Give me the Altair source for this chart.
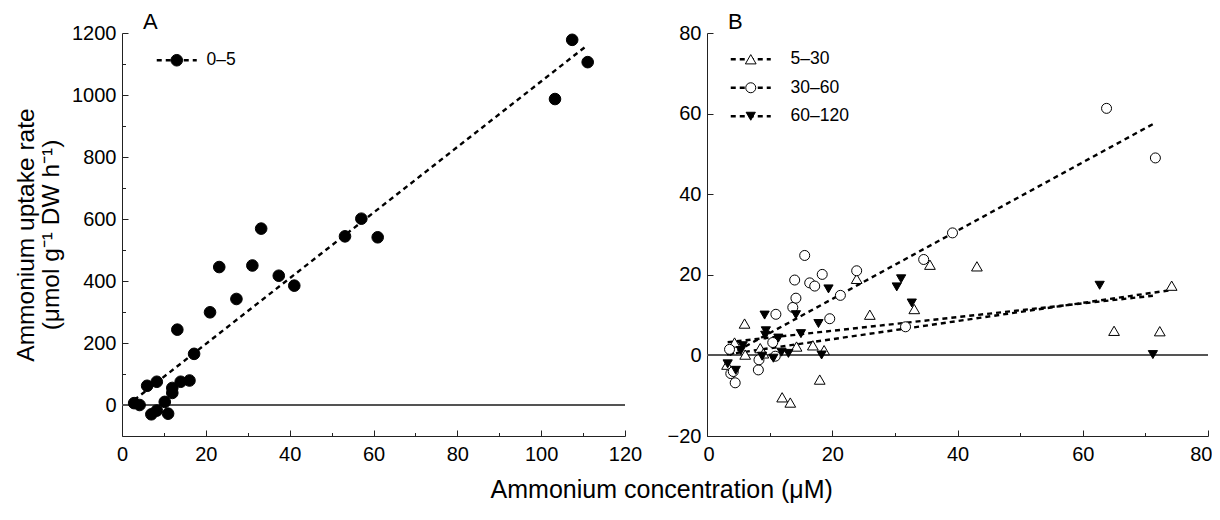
import altair as alt
import pandas as pd
import math

FONT = "Liberation Sans"

# ---------------- Panel A data (0–5) ----------------
a_group = "0–5"
a_x = [2.9, 4.2, 6.0, 7.0, 8.3, 8.3, 10.2, 11.0, 12.0, 12.0, 13.2, 14.0, 16.1, 17.2,
       21.0, 23.2, 27.3, 31.1, 33.2, 37.4, 41.1, 53.2, 57.1, 61.0, 103.3, 107.4, 111.1]
a_y = [6, 0, 62, -30, 75, -18, 10, -28, 55, 39, 243, 75, 79, 165,
       299, 445, 342, 450, 569, 417, 385, 544, 601, 541, 987, 1178, 1106]

# ---------------- Panel B data ----------------
b_groups = ["5–30", "30–60", "60–120"]

tri_x = [3.2, 4.4, 6.0, 6.1, 8.5, 9.0, 14.3, 16.9, 18.7, 18.0, 12.0, 13.3,
         23.9, 26.0, 33.1, 35.6, 43.1, 65.0, 72.3, 74.2]
tri_y = [-2.3, 3.2, 7.9, 0.2, 1.8, 0.5, 2.2, 2.5, 1.3, -6.0, -10.4, -11.7,
         19.0, 10.1, 11.5, 22.5, 22.1, 6.1, 6.0, 17.3]

circ_x = [3.6, 3.8, 4.2, 4.5, 8.2, 8.3, 10.5, 10.9, 11.0, 13.7, 14.2, 14.0, 15.6,
          16.4, 17.2, 18.4, 19.6, 21.3, 23.9, 31.7, 34.6, 39.2, 63.8, 71.6]
circ_y = [1.5, -4.5, -4.0, -6.8, -3.6, -1.1, 3.2, -0.2, 10.2, 11.9, 14.2, 18.7, 24.8,
          18.0, 17.2, 20.1, 9.1, 14.9, 21.0, 7.1, 23.8, 30.4, 61.3, 49.0]

inv_x = [3.3, 4.6, 5.4, 5.7, 8.8, 9.2, 9.4, 9.3, 10.6, 11.4, 11.9, 13.0, 14.2,
         15.0, 17.8, 18.3, 19.4, 30.3, 31.0, 32.7, 62.7, 71.2]
inv_y = [-2.1, -3.7, 1.2, 2.4, -0.2, 10.0, 6.1, 5.0, -0.7, 4.3, 0.8, 0.5, 10.1,
         5.4, 7.9, 0.1, 16.5, 17.0, 19.0, 13.0, 17.4, 0.2]

dfA = pd.DataFrame({"x": a_x, "y": a_y, "grp": a_group})
dfB = pd.concat([
    pd.DataFrame({"x": tri_x, "y": tri_y, "grp": b_groups[0]}),
    pd.DataFrame({"x": circ_x, "y": circ_y, "grp": b_groups[1]}),
    pd.DataFrame({"x": inv_x, "y": inv_y, "grp": b_groups[2]}),
], ignore_index=True)

AX = "#222222"
ZW = "\u200b"  # keeps the dashed-line legend separate from the marker legend


def major_axis(values, orient, title=None, padding=12, flush=False):
    kw = dict(
        values=values, orient=orient, grid=False, format="d",
        domainColor=AX, tickColor=AX, domainWidth=1, tickWidth=1,
        tickSize={"expr": "-6"},
        labelPadding=padding, labelFont=FONT, labelFontSize=20, labelColor="black",
        labelOverlap=False,
    )
    if flush:
        kw["labelFlush"] = True
        kw["labelFlushOffset"] = 4
    else:
        kw["labelFlush"] = False
    if title is None:
        kw["title"] = None
    else:
        kw.update(title=title, titleFont=FONT, titleFontSize=24.5, titleFontWeight="normal",
                  titleColor="black", titlePadding=8, titleLineHeight=25)
    return alt.Axis(**kw)


def minor_axis(values, orient):
    return alt.Axis(values=values, orient=orient, grid=False, domain=False, labels=False,
                    tickColor=AX, tickWidth=1, tickSize={"expr": "-3.5"}, title=None)


def panel(df, groups, shapes, fills, sizes, xdom, ydom, xmaj, ymaj, xmin, ymin, letter,
          lsize, leg_x, leg_y, label_off, row_pad, w, h):
    xs = alt.Scale(domain=xdom, nice=False, zero=False)
    ys = alt.Scale(domain=ydom, nice=False, zero=False)
    base = alt.Chart(df)

    zero = alt.Chart(df).mark_rule(color="#555555", strokeWidth=1).encode(
        y=alt.YDatum(0, scale=ys, axis=None)
    )

    half = 20.0 / (math.sqrt(lsize) / 2.0)
    line_path = f"M{-half:.3f},0L{half:.3f},0"

    leg_common = dict(
        orient="none", legendX=leg_x, legendY=leg_y, title=None,
        symbolSize=lsize, labelFont=FONT, labelFontSize=17.5, labelColor="black",
        rowPadding=row_pad, padding=0, labelOffset=label_off,
        symbolStrokeColor="black",
    )

    groups2 = [g + ZW for g in groups]
    lines = base.transform_regression(
        "x", "y", groupby=["grp"]
    ).transform_calculate(grp2=f"datum.grp + '{ZW}'").mark_line(
        color="black", strokeWidth=2.4
    ).encode(
        x=alt.X("x:Q", scale=xs, axis=xmin),
        y=alt.Y("y:Q", scale=ys, axis=ymin),
        detail="grp:N",
        strokeDash=alt.StrokeDash(
            "grp2:N",
            scale=alt.Scale(domain=groups2, range=[[5, 4]] * len(groups)),
            legend=alt.Legend(symbolType=line_path, symbolStrokeWidth=2.4,
                              labelOpacity=0, zindex=1, **leg_common),
        ),
    )

    mleg = alt.Legend(symbolStrokeWidth=1, zindex=2, **leg_common)
    enc = dict(
        x=alt.X("x:Q", scale=xs, axis=xmaj),
        y=alt.Y("y:Q", scale=ys, axis=ymaj),
        shape=alt.Shape("grp:N", scale=alt.Scale(domain=groups, range=shapes), legend=mleg),
        fill=alt.Fill("grp:N", scale=alt.Scale(domain=groups, range=fills), legend=mleg),
        stroke=alt.Stroke("grp:N", scale=alt.Scale(domain=groups, range=["black"] * len(groups)),
                          legend=mleg),
    )
    if len(groups) > 1:
        enc["size"] = alt.Size("grp:N", scale=alt.Scale(domain=groups, range=sizes), legend=mleg)
        pts = base.mark_point(filled=False, strokeWidth=1, opacity=1).encode(**enc)
    else:
        pts = base.mark_point(filled=False, strokeWidth=1, opacity=1, size=sizes[0]).encode(**enc)

    return alt.layer(zero, lines, pts).resolve_axis(x="independent", y="independent").properties(
        width=w, height=h,
        title=alt.TitleParams(letter, anchor="start", frame="group", dx=21, fontSize=22,
                              fontWeight="normal", font=FONT, color="black", offset=-10.5),
    )


axA_x = major_axis(list(range(0, 121, 20)), "bottom", padding=14)
axA_y = major_axis(list(range(0, 1201, 200)), "left",
                   title=["Ammonium uptake rate", "(μmol g⁻¹ DW h⁻¹)"])
minA_x = minor_axis(list(range(10, 120, 20)), "bottom")
minA_y = minor_axis(list(range(100, 1200, 200)), "left")

axB_x = major_axis(list(range(0, 81, 20)), "bottom", padding=14, flush=True)
axB_y = major_axis(list(range(-20, 81, 20)), "left")
minB_x = minor_axis(list(range(10, 80, 20)), "bottom")

panelA = panel(dfA, [a_group], ["circle"], ["black"], [135], [0, 120], [-100, 1200],
               axA_x, axA_y, minA_x, minA_y, "A", 135, 46, 18.5, 21, 10, 503, 403)
panelB = panel(dfB, b_groups, ["triangle-up", "circle", "triangle-down"], ["white", "white", "black"],
               [115, 85, 115], [0, 80], [-20, 80], axB_x, axB_y, minB_x, None, "B",
               115, 35, 17.5, 31, 9.5, 501, 403)

chart = alt.hconcat(panelA, panelB, spacing=25).properties(
    title=alt.TitleParams("Ammonium concentration (μM)", orient="bottom", anchor="middle",
                          fontSize=25, fontWeight="normal", font=FONT, color="black",
                          offset=14, dx=49),
    padding={"left": 5, "top": 2, "right": 0, "bottom": 0},
).configure_view(stroke=None).resolve_scale(shape="independent", fill="independent",
                                            stroke="independent", size="independent",
                                            strokeDash="independent")

chart.save("out.html", embed_options={"renderer": "svg", "actions": False})
